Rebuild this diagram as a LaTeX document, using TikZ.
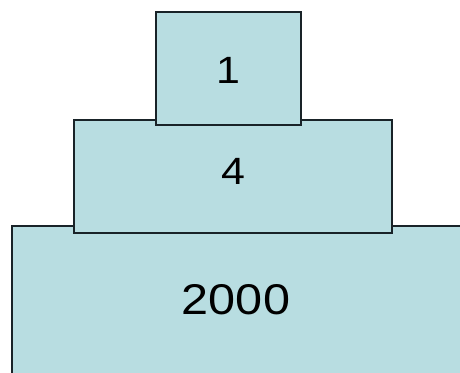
\documentclass[tikz,border=0pt]{standalone}
\usepackage{fontspec}
\setmainfont{Liberation Sans}
\definecolor{boxfill}{RGB}{184,221,225}
\definecolor{boxline}{RGB}{25,35,40}
\begin{document}
\begin{tikzpicture}[x=1pt,y=1pt,
  tier/.style={draw=boxline,fill=boxfill,line width=1.5pt,inner sep=0pt},
  lbl/.style={inner sep=0pt,text=black}]
\fill[white] (0,0) rectangle (460,372);
\clip (0,0) rectangle (460,372);
% bottom tier (extends past right and bottom edges)
\path[tier] (12,-10) rectangle (470,146) coordinate (b);
\node[lbl,font=\fontsize{43}{43}\selectfont] (t2000) at (236,72.5) {\scalebox{1.13}[1]{2000}};
% middle tier
\node[tier,minimum width=318pt,minimum height=113pt] (mid) at (233,195.5) {};
\node[lbl,font=\fontsize{38}{38}\selectfont] (t4) at (233,200.5) {\scalebox{1.13}[1]{4}};
% top tier
\node[tier,minimum width=145pt,minimum height=113pt] (top) at (228.5,303.5) {};
\node[lbl,font=\fontsize{38}{38}\selectfont] (t1) at (228,301.5) {\scalebox{1.13}[1]{1}};
\end{tikzpicture}
\end{document}
